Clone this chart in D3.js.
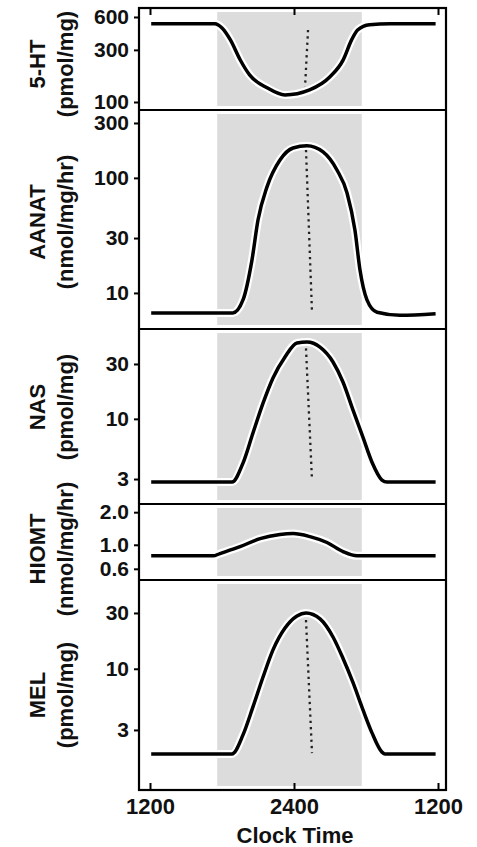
<!DOCTYPE html>
<html>
<head>
<meta charset="utf-8">
<script src="https://cdn.jsdelivr.net/npm/d3@7"></script>
<style>
  html, body { margin: 0; padding: 0; background: #fff; }
  svg text { font-family: "Liberation Sans", Arial, Helvetica, sans-serif; font-weight: bold; fill: #111; }
</style>
</head>
<body>
<svg id="chart"></svg>
<script>
// pineal indoles over 24 h, five stacked log panels

const width = 477;
const height = 847;

// ---- data (clock hours, 12 = noon, 36 = next noon) ----
const timeTicks = [12, 24, 36];
const timeTickLabels = ["1200", "2400", "1200"];
const darkPhase = [17.6, 29.65];

const panelNames = ["5-HT", "AANAT", "NAS", "HIOMT", "MEL"];
const panelUnits = ["(pmol/mg)", "(nmol/mg/hr)", "(pmol/mg)", "(nmol/mg/hr)", "(pmol/mg)"];
const panelTicks = [
  [100, 300, 600],
  [10, 30, 100, 300],
  [3, 10, 30],
  [0.6, 1.0, 2.0],
  [3, 10, 30]
];

const htTime  = [12.1, 17.4, 18.0, 18.7, 19.5, 20.3, 21.75, 23.25, 25.3, 27.0, 28.1, 28.8, 29.3, 30.3, 32.0, 35.8];
const htValue = [520, 520, 476, 370, 245, 177, 135, 116, 129, 170, 243, 370, 456, 510, 520, 520];
const htMarkTime  = [25.17, 24.92];
const htMarkValue = [456, 138];

const aanatTime  = [12.1, 18.9, 19.75, 20.5, 21.0, 21.75, 22.83, 23.92, 25.08, 26.42, 27.58, 28.42, 29.08, 29.5, 30.08, 30.92, 32.83, 35.8];
const aanatValue = [6.7, 6.7, 8.7, 19.4, 43, 83.5, 143, 182, 190, 168, 117, 74, 35, 15.8, 8.7, 6.8, 6.4, 6.6];
const aanatMarkTime  = [25.0, 25.5];
const aanatMarkValue = [175, 6.8];

const nasTime  = [12.1, 18.83, 19.75, 20.58, 21.42, 22.25, 23.25, 24.25, 25.08, 26.17, 27.25, 28.08, 28.92, 29.75, 30.5, 31.33, 31.75, 35.8];
const nasValue = [2.82, 2.82, 4.13, 7.54, 13.7, 22.7, 34.5, 45.6, 46.5, 42, 31.2, 20.9, 11.9, 6.9, 4.2, 2.94, 2.82, 2.82];
const nasMarkTime  = [25.0, 25.5];
const nasMarkValue = [41, 2.94];

const hiomtTime  = [12.1, 17.25, 17.83, 19.5, 21.17, 22.83, 23.92, 25.33, 26.75, 28.08, 29.25, 30.08, 35.8];
const hiomtValue = [0.79, 0.79, 0.83, 0.96, 1.14, 1.245, 1.27, 1.19, 1.05, 0.865, 0.79, 0.79, 0.79];

const melTime  = [12.1, 18.83, 19.75, 20.58, 21.42, 22.25, 23.25, 24.25, 25.0, 26.17, 27.25, 28.08, 28.92, 29.75, 30.5, 31.33, 31.58, 35.8];
const melValue = [1.87, 1.87, 2.72, 4.72, 8.5, 14.5, 22.3, 28.3, 30, 26.7, 18.7, 12.3, 7.6, 4.45, 2.83, 1.94, 1.87, 1.87];
const melMarkTime  = [25.0, 25.5];
const melMarkValue = [26.1, 1.9];

const seriesTime  = [htTime, aanatTime, nasTime, hiomtTime, melTime];
const seriesValue = [htValue, aanatValue, nasValue, hiomtValue, melValue];
const markTime  = [htMarkTime, aanatMarkTime, nasMarkTime, null, melMarkTime];
const markValue = [htMarkValue, aanatMarkValue, nasMarkValue, null, melMarkValue];

// ---- layout ----
const frameLeft = 139, frameRight = 446;
const panels = [
  { top: 8,   bottom: 110, lo: 84.5, hi: 725,  labelY: 64 },
  { top: 110, bottom: 329, lo: 4.86, hi: 389,  labelY: 222 },
  { top: 329, bottom: 504, lo: 1.82, hi: 60.4, labelY: 407 },
  { top: 504, bottom: 580, lo: 0.473, hi: 2.38, labelY: 549 },
  { top: 580, bottom: 790, lo: 0.92, hi: 57.4, labelY: 695 }
];

const svg = d3.select("#chart")
  .attr("width", width)
  .attr("height", height);

const x = d3.scaleLinear().domain([12, 36]).range([150, 438]);

panels.forEach(function (p, i) {
  const y = d3.scaleLog().domain([p.lo, p.hi]).range([p.bottom, p.top]);
  const g = svg.append("g");

  // dark phase shading (inset a little from the panel lines)
  g.append("rect")
    .attr("x", x(darkPhase[0]))
    .attr("width", x(darkPhase[1]) - x(darkPhase[0]))
    .attr("y", p.top + 4)
    .attr("height", p.bottom - p.top - 8)
    .attr("fill", "#dcdcdc");

  // peak marker (dotted)
  if (markTime[i]) {
    const pts = markTime[i].map(function (t, k) { return [t, markValue[i][k]]; });
    g.append("path")
      .attr("d", d3.line().x(function (d) { return x(d[0]); }).y(function (d) { return y(d[1]); })(pts))
      .attr("fill", "none")
      .attr("stroke", "#222")
      .attr("stroke-width", 2.3)
      .attr("stroke-dasharray", "2.3 4");
  }

  // the curve, with a white halo
  const data = seriesTime[i].map(function (t, k) { return [t, seriesValue[i][k]]; });
  const line = d3.line()
    .x(function (d) { return x(d[0]); })
    .y(function (d) { return y(d[1]); })
    .curve(d3.curveMonotoneX);

  g.append("path")
    .attr("d", line(data))
    .attr("fill", "none")
    .attr("stroke", "#fff")
    .attr("stroke-width", 8)
    .attr("stroke-linejoin", "round");

  g.append("path")
    .attr("d", line(data))
    .attr("fill", "none")
    .attr("stroke", "#000")
    .attr("stroke-width", 3.5)
    .attr("stroke-linejoin", "round")
    .attr("stroke-linecap", "butt");

  // y axis, ticks outward
  const fmt = i === 3 ? d3.format(".1f") : d3.format("d");
  const axis = d3.axisLeft(y)
    .tickValues(panelTicks[i])
    .tickFormat(fmt)
    .tickSize(5)
    .tickPadding(5);

  const ax = svg.append("g")
    .attr("transform", "translate(" + frameLeft + ",0)")
    .call(axis);
  ax.select(".domain").remove();
  ax.selectAll(".tick line").attr("stroke", "#000").attr("stroke-width", 2);
  ax.selectAll(".tick text")
    .attr("font-size", 21)
    .attr("font-family", null)
    .attr("fill", "#111");

  // y titles (two lines, rotated)
  svg.append("text")
    .attr("transform", "translate(45," + p.labelY + ") rotate(-90)")
    .attr("text-anchor", "middle")
    .attr("font-size", 22)
    .text(panelNames[i]);
  svg.append("text")
    .attr("transform", "translate(73," + p.labelY + ") rotate(-90)")
    .attr("text-anchor", "middle")
    .attr("font-size", 22)
    .text(panelUnits[i]);
});

// frame and separators
svg.append("rect")
  .attr("x", frameLeft)
  .attr("y", panels[0].top)
  .attr("width", frameRight - frameLeft)
  .attr("height", panels[4].bottom - panels[0].top)
  .attr("fill", "none")
  .attr("stroke", "#000")
  .attr("stroke-width", 2.2);

svg.append("g")
  .selectAll("line")
  .data(panels.slice(1))
  .enter()
  .append("line")
  .attr("x1", frameLeft)
  .attr("x2", frameRight)
  .attr("y1", function (d) { return d.top; })
  .attr("y2", function (d) { return d.top; })
  .attr("stroke", "#000")
  .attr("stroke-width", 2.2);

// x axis at bottom, ticks pointing inward
const xAxis = d3.axisBottom(x)
  .tickValues(timeTicks)
  .tickFormat(function (d, i) { return timeTickLabels[i]; })
  .tickSizeInner(-7)
  .tickSizeOuter(0)
  .tickPadding(8);

const xg = svg.append("g")
  .attr("transform", "translate(0," + panels[4].bottom + ")")
  .call(xAxis);
xg.select(".domain").remove();
xg.selectAll(".tick line").attr("stroke", "#000").attr("stroke-width", 2);
xg.selectAll(".tick text")
  .attr("font-size", 22)
  .attr("font-family", null)
  .attr("fill", "#111");

// matching inward ticks along the top edge
const xTop = d3.axisTop(x)
  .tickValues(timeTicks)
  .tickFormat("")
  .tickSizeInner(-7)
  .tickSizeOuter(0);
const xt = svg.append("g")
  .attr("transform", "translate(0," + panels[0].top + ")")
  .call(xTop);
xt.select(".domain").remove();
xt.selectAll(".tick line").attr("stroke", "#000").attr("stroke-width", 2);

// x title
svg.append("text")
  .attr("x", x(24) + 1)
  .attr("y", 843)
  .attr("text-anchor", "middle")
  .attr("font-size", 22)
  .text("Clock Time");
</script>
</body>
</html>
